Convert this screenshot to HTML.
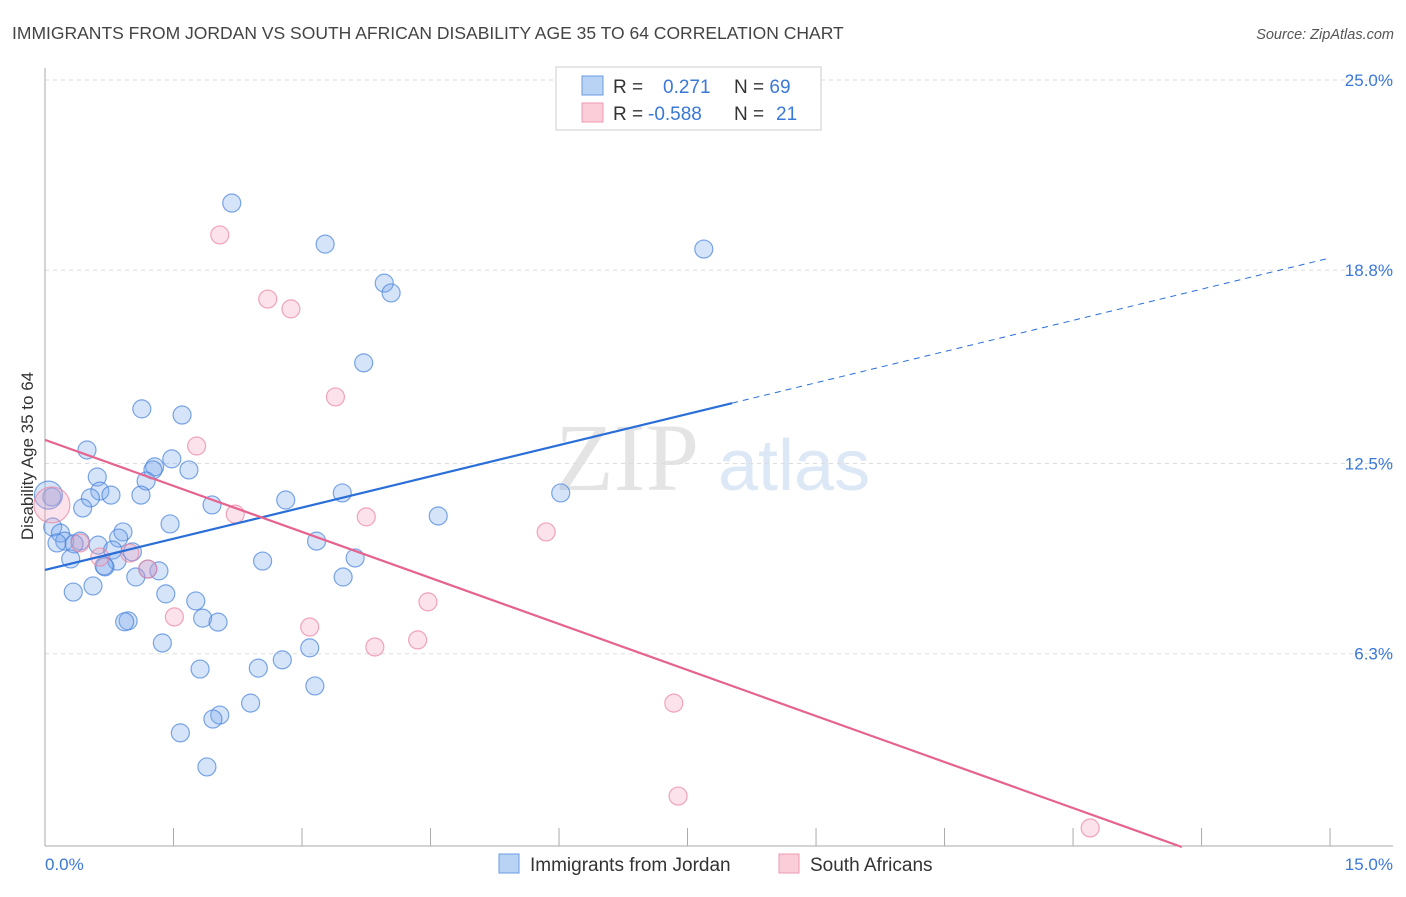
<!DOCTYPE html>
<html><head><meta charset="utf-8"><style>
body{margin:0;background:#fff;font-family:"Liberation Sans",sans-serif;}
</style></head><body>
<svg id="chart" width="1406" height="892" xmlns="http://www.w3.org/2000/svg" font-family="Liberation Sans, sans-serif">
<text x="12" y="39" font-size="17.5" fill="#444">IMMIGRANTS FROM JORDAN VS SOUTH AFRICAN DISABILITY AGE 35 TO 64 CORRELATION CHART</text>
<text x="1394" y="39" font-size="14.5" fill="#555" text-anchor="end" font-style="italic">Source: ZipAtlas.com</text>
<text x="555" y="490" font-size="96" fill="#e4e4e4" font-family="Liberation Serif, serif">ZIP</text>
<text x="718" y="490" font-size="72" fill="#dde8f6">atlas</text>
<g id="grid"></g>
<g id="axes"></g>
<g id="marks"></g>
<text transform="translate(33,456) rotate(-90)" font-size="17" fill="#333" text-anchor="middle">Disability Age 35 to 64</text>
<g>
<rect x="556" y="67" width="265" height="63" fill="#fff" stroke="#ccc"/>
<rect x="582" y="76" width="21" height="19" fill="#b9d3f4" stroke="#6a9be0"/>
<rect x="582" y="103" width="21" height="19" fill="#fbcdd9" stroke="#ee9ab3"/>
<text x="613" y="93" font-size="19" fill="#333">R = <tspan fill="#3a78d8" x="663">0.271</tspan><tspan x="734" fill="#333">N = </tspan><tspan fill="#3a78d8">69</tspan></text>
<text x="613" y="120" font-size="19" fill="#333">R = <tspan fill="#3a78d8" x="648">-0.588</tspan><tspan x="734" fill="#333">N = </tspan><tspan fill="#3a78d8" x="776">21</tspan></text>
</g>
<g>
<rect x="499" y="854" width="20" height="19" fill="#b9d3f4" stroke="#6a9be0"/>
<text x="530" y="871" font-size="19" fill="#333">Immigrants from Jordan</text>
<rect x="779" y="854" width="20" height="19" fill="#fbcdd9" stroke="#ee9ab3"/>
<text x="810" y="871" font-size="19" fill="#333">South Africans</text>
</g>
</svg>
<script>
const xTickLabels=["0.0%","15.0%"];
const yTicks=[6.3,12.5,18.8,25.0];
const yTickLabels=["6.3%","12.5%","18.8%","25.0%"];
const blueX=[2.18,3.27,7.69,3.96,4.04,3.72,1.13,1.60,0.49,1.48,1.28,1.26,1.68,0.61,1.18,0.64,0.53,0.77,1.12,2.81,3.47,6.02,1.95,0.44,1.46,0.09,0.91,0.18,4.59,0.86,0.23,0.41,0.14,0.34,3.17,0.62,0.79,1.02,3.62,2.54,0.30,0.84,0.70,1.33,1.20,1.06,3.48,0.56,0.33,1.41,1.76,0.97,0.93,1.84,2.02,1.37,3.09,2.77,2.49,1.81,3.15,2.40,2.04,1.96,1.58,1.89,0.08,0.69,0.04];
const blueY=[20.99,19.65,19.49,18.38,18.06,15.78,14.28,14.08,12.94,12.65,12.39,12.29,12.29,12.06,11.93,11.60,11.38,11.47,11.47,11.31,11.54,11.54,11.15,11.05,10.53,10.43,10.27,10.23,10.79,10.07,9.97,9.97,9.91,9.88,9.97,9.84,9.68,9.62,9.42,9.32,9.39,9.32,9.13,9.00,9.06,8.80,8.80,8.51,8.31,8.25,8.02,7.37,7.34,7.46,7.33,6.65,6.49,6.10,5.83,5.80,5.25,4.69,4.30,4.17,3.72,2.61,11.41,9.16,11.47];
const blueR=[9,9,9,9,9,9,9,9,9,9,9,9,9,9,9,9,9,9,9,9,9,9,9,9,9,9,9,9,9,9,9,9,9,9,9,9,9,9,9,9,9,9,9,9,9,9,9,9,9,9,9,9,9,9,9,9,9,9,9,9,9,9,9,9,9,9,9,9,14];
const pinkX=[2.04,2.60,2.87,3.39,1.77,2.22,3.75,5.85,0.08,0.64,0.99,1.20,4.47,1.51,3.09,3.85,4.35,7.34,7.39,12.20,0.41];
const pinkY=[19.95,17.86,17.54,14.67,13.07,10.85,10.76,10.27,11.15,9.45,9.58,9.06,7.99,7.50,7.17,6.52,6.75,4.69,1.66,0.62,9.91];
const pinkR=[9,9,9,9,9,9,9,9,18,9,9,9,9,9,9,9,9,9,9,9,9];
const blueTrend=[9.03,19.2]; const blueSolidEnd=8.02;
const pinkTrend=[13.27,-1.0];
const NS="http://www.w3.org/2000/svg";
const X=v=>45+v*85.67, Y=v=>847-v*30.68;
function mk(t,a,p){const e=document.createElementNS(NS,t);for(const k in a)e.setAttribute(k,a[k]);p.appendChild(e);return e;}
const grid=document.getElementById('grid'),axes=document.getElementById('axes'),marks=document.getElementById('marks');
yTicks.forEach((t,i)=>{
 const l=mk('line',{x1:45,x2:1393,y1:Y(t),y2:Y(t),stroke:'#ddd','stroke-dasharray':'4,4'},grid);
 
 
 const tx=mk('text',{x:1393,y:Y(t)+6,'font-size':17,fill:'#3a78d8','text-anchor':'end'},axes);
 tx.textContent=yTickLabels[i];
 
 
});
mk('line',{x1:45,x2:45,y1:68,y2:846,stroke:'#aaa'},axes);
mk('line',{x1:45,x2:1393,y1:846,y2:846,stroke:'#aaa'},axes);
for(let i=0;i<=10;i++){const t=mk('line',{x1:X(i*1.5),x2:X(i*1.5),y1:828,y2:846,stroke:'#aaa'},axes);
 
 }
const xl0=mk('text',{x:45,y:870,'font-size':17,fill:'#3a78d8'},axes);xl0.textContent=xTickLabels[0];


const xl1=mk('text',{x:1393,y:870,'font-size':17,fill:'#3a78d8','text-anchor':'end'},axes);xl1.textContent=xTickLabels[1];


blueX.forEach((x,i)=>{const c=mk('circle',{cx:X(x),cy:Y(blueY[i]),r:blueR[i],fill:'rgba(120,165,235,0.3)',stroke:'rgba(70,130,220,0.7)','stroke-width':1.2},marks);
 
 });
pinkX.forEach((x,i)=>{const c=mk('circle',{cx:X(x),cy:Y(pinkY[i]),r:pinkR[i],fill:'rgba(245,160,185,0.3)',stroke:'rgba(235,130,160,0.7)','stroke-width':1.2},marks);
 
 });
const bs=(blueTrend[1]-blueTrend[0])/15;
const b1=mk('line',{x1:X(0),y1:Y(blueTrend[0]),x2:X(blueSolidEnd),y2:Y(blueTrend[0]+bs*blueSolidEnd),stroke:'#2a6fd8','stroke-width':2.2},marks);


const b2=mk('line',{x1:X(blueSolidEnd),y1:Y(blueTrend[0]+bs*blueSolidEnd),x2:X(15),y2:Y(blueTrend[1]),stroke:'#2a6fd8','stroke-width':1,'stroke-dasharray':'6,5'},marks);


const pEnd=-pinkTrend[0]/pinkTrend[1];
const p1=mk('line',{x1:X(0),y1:Y(pinkTrend[0]),x2:X(pEnd),y2:Y(0),stroke:'#e5638e','stroke-width':2.2},marks);


</script>
</body></html>
